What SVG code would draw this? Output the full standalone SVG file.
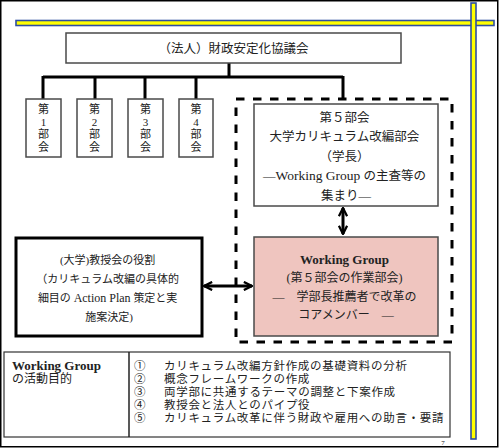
<svg xmlns="http://www.w3.org/2000/svg" width="500" height="448" viewBox="0 0 500 448">
<style>
.box{fill:#fff;stroke:#4a4a4a;stroke-width:1.5}
.t{font-family:"Liberation Serif","Noto Sans CJK JP",serif;fill:#222}
.c{text-anchor:middle}
.conn{stroke:#000;stroke-width:3;fill:none}
.v{font-size:11px}
</style>
<defs>
<marker id="ah" viewBox="0 0 10 10" refX="9" refY="5" markerWidth="3.4" markerHeight="3.4" orient="auto-start-reverse" markerUnits="strokeWidth">
<path d="M1,1 L9,5 L1,9" fill="none" stroke="#000" stroke-width="2.2"/>
</marker>
</defs>
<rect x="0.75" y="0.75" width="497" height="446" fill="#fff" stroke="#000" stroke-width="1.5"/>
<g id="deco">
<rect x="16" y="20.5" width="478" height="5" fill="#ffff00" stroke="#2f4fa0" stroke-width="1.6"/>
<rect x="471" y="3" width="5" height="436" fill="#ffff00" stroke="#2f4fa0" stroke-width="1.6"/>
</g>
<g id="connectors">
<path class="conn" d="M229,63 V77 M43,77 H343 M43,76 V99 M95,76 V99 M145,76 V99 M196,76 V99 M343,76 V99"/>
<line class="conn" x1="343" y1="208" x2="343" y2="234" marker-start="url(#ah)" marker-end="url(#ah)"/>
<line class="conn" x1="204" y1="286" x2="252" y2="286" marker-start="url(#ah)" marker-end="url(#ah)"/>
</g>
<g id="council">
<rect class="box" x="66" y="33" width="335" height="30"/>
<text class="t c" x="233.5" y="52.5" font-size="12.5">（法人）財政安定化協議会</text>
</g>
<g id="b1">
<rect class="box" x="26" y="99" width="35" height="58"/>
<text class="t c v"><tspan x="43.5" y="113">第</tspan><tspan x="43.5" y="125.5">1</tspan><tspan x="43.5" y="138">部</tspan><tspan x="43.5" y="150.5">会</tspan></text>
</g>
<g id="b2">
<rect class="box" x="77" y="99" width="35" height="58"/>
<text class="t c v"><tspan x="94.5" y="113">第</tspan><tspan x="94.5" y="125.5">2</tspan><tspan x="94.5" y="138">部</tspan><tspan x="94.5" y="150.5">会</tspan></text>
</g>
<g id="b3">
<rect class="box" x="128" y="99" width="35" height="58"/>
<text class="t c v"><tspan x="145.5" y="113">第</tspan><tspan x="145.5" y="125.5">3</tspan><tspan x="145.5" y="138">部</tspan><tspan x="145.5" y="150.5">会</tspan></text>
</g>
<g id="b4">
<rect class="box" x="179" y="99" width="34" height="58"/>
<text class="t c v"><tspan x="196" y="113">第</tspan><tspan x="196" y="125.5">4</tspan><tspan x="196" y="138">部</tspan><tspan x="196" y="150.5">会</tspan></text>
</g>
<g id="group5">
<rect x="236" y="99" width="216" height="243" fill="none" stroke="#000" stroke-width="3" stroke-dasharray="8.5 8.5"/>
</g>
<g id="b5">
<rect class="box" x="254" y="104" width="184" height="102"/>
<text class="t c" font-size="12.5">
<tspan x="346" y="121.5">第５部会</tspan>
<tspan x="346" y="141">大学カリキュラム改編部会</tspan>
<tspan x="346" y="161">（学長）</tspan>
<tspan x="346" y="180">―<tspan font-size="13.5">Working Group</tspan> の主査等の</tspan>
<tspan x="346" y="199.5">集まり―</tspan>
</text>
</g>
<g id="wg">
<rect x="254" y="237" width="184" height="99" fill="#efc5bf" stroke="#4a4a4a" stroke-width="1.5"/>
<text class="t c" font-size="12">
<tspan x="346" y="263.5" font-weight="bold" font-size="13">Working Group</tspan>
<tspan x="346" y="282">(第５部会の作業部会)</tspan>
<tspan x="346" y="301">―　学部長推薦者で改革の</tspan>
<tspan x="346" y="319">コアメンバー　―</tspan>
</text>
</g>
<g id="faculty">
<rect x="16" y="238" width="186" height="98" fill="#fff" stroke="#000" stroke-width="3"/>
<text class="t c" font-size="11">
<tspan x="109" y="264">(大学)教授会の役割</tspan>
<tspan x="109" y="283">（カリキュラム改編の具体的</tspan>
<tspan x="109" y="301.5">細目の <tspan font-size="12">Action Plan</tspan> 策定と実</tspan>
<tspan x="109" y="321">施案決定)</tspan>
</text>
</g>
<g id="purpose">
<rect x="4" y="352" width="446" height="85" fill="#fff" stroke="#333" stroke-width="1.2"/>
<line x1="129" y1="352" x2="129" y2="437" stroke="#222" stroke-width="1.5"/>
<text class="t" font-size="12">
<tspan x="12" y="370" font-weight="bold" font-size="13">Working Group</tspan>
<tspan x="12" y="383">の活動目的</tspan>
</text>
<text class="t" font-size="11.5">
<tspan x="134" y="370">①</tspan><tspan x="134" y="383">②</tspan><tspan x="134" y="396">③</tspan><tspan x="134" y="409">④</tspan><tspan x="134" y="422">⑤</tspan>
</text>
<text class="t" font-size="11.5" letter-spacing="0.7">
<tspan x="164" y="370">カリキュラム改編方針作成の基礎資料の分析</tspan>
<tspan x="164" y="383">概念フレームワークの作成</tspan>
<tspan x="164" y="396">両学部に共通するテーマの調整と下案作成</tspan>
<tspan x="164" y="409">教授会と法人とのパイプ役</tspan>
<tspan x="164" y="422">カリキュラム改革に伴う財政や雇用への助言・要請</tspan>
</text>
</g>
<text class="t c" x="443" y="445" font-size="7">7</text>
</svg>
